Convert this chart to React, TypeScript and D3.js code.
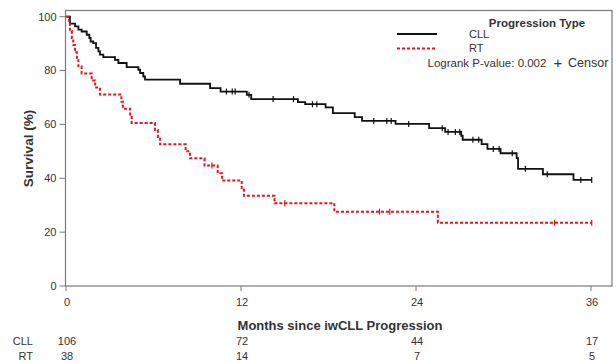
import React from "react";
import * as d3 from "d3";

// Kaplan–Meier step tables: time of each event (months) and survival (%) after it
const cllTimes = [0, 0.27, 0.62, 0.85, 1.07, 1.42, 1.6, 1.69, 1.87, 2.06, 2.22, 2.33, 2.56, 3.36, 3.59, 4.16, 4.96, 5.08, 5.3, 5.42, 7.82, 9.88, 10.6, 12.4, 12.7, 15.9, 16.4, 17.8, 18.3, 19.8, 20.3, 22.6, 24.9, 26.0, 27.1, 27.2, 28.5, 28.9, 29.8, 30.9, 31.0, 32.7, 34.8];
const cllSurv = [100, 97.4, 96.4, 95.2, 94.5, 93.3, 92.1, 90.8, 90.2, 88.4, 87.1, 85.9, 85.0, 84.0, 82.8, 81.3, 80.3, 79.1, 77.8, 76.6, 75.1, 73.5, 72.2, 71.0, 69.4, 68.3, 67.5, 66.3, 64.2, 62.7, 61.3, 60.2, 58.6, 57.2, 55.8, 54.3, 52.7, 50.9, 49.3, 47.5, 43.5, 41.5, 39.4];
const cllCensor = [11.0, 11.4, 11.6, 12.55, 14.2, 15.6, 16.9, 17.2, 21.1, 22.0, 22.3, 23.5, 25.8, 26.2, 26.7, 27.0, 27.9, 28.3, 29.3, 29.7, 30.6, 31.5, 33.0, 35.3, 36.05];

const rtTimes = [0, 0.2, 0.27, 0.4, 0.5, 0.62, 0.75, 0.85, 1.07, 1.76, 2.0, 2.33, 3.8, 3.9, 4.4, 4.5, 6.1, 6.3, 6.45, 8.2, 8.5, 9.5, 10.4, 10.7, 12.05, 12.2, 14.3, 18.4, 25.5];
const rtSurv = [100, 97.4, 94.7, 92.1, 89.5, 86.8, 84.2, 81.6, 78.9, 76.3, 73.7, 71.1, 68.4, 65.8, 63.2, 60.5, 57.9, 55.3, 52.6, 50.0, 47.4, 44.7, 41.9, 39.2, 36.3, 33.5, 30.7, 27.6, 23.5];
const rtCensor = [10.0, 15.0, 21.5, 22.2, 33.5, 36.05];

const followUpEnd = 36.05;

const xTicks = [0, 12, 24, 36];
const yTicks = [0, 20, 40, 60, 80, 100];
const riskGroups = ["CLL", "RT"];
const cllAtRisk = [106, 72, 44, 17];
const rtAtRisk = [38, 14, 7, 5];

const FONT = "'Liberation Sans', Arial, Helvetica, sans-serif";
const TEXT = "#333";
const FRAME = "#7a7a7a";
const CLL_COLOR = "#111";
const RT_COLOR = "#e8141c";

function survAt(times: number[], surv: number[], t: number) {
  const i = d3.bisectRight(times, t) - 1;
  return surv[Math.max(0, i)];
}

export default function App() {
  const x = d3.scaleLinear().domain([0, 36]).range([66, 591]);
  const y = d3.scaleLinear().domain([0, 100]).range([286, 16.7]);
  const frame = { left: 65.5, right: 612, top: 10.5, bottom: 286 };

  const line = d3
    .line<[number, number]>()
    .x((d) => x(d[0]))
    .y((d) => y(d[1]))
    .curve(d3.curveStepAfter);

  const series = [
    { times: cllTimes, surv: cllSurv, censor: cllCensor, color: CLL_COLOR, dash: undefined as string | undefined, width: 1.8 },
    { times: rtTimes, surv: rtSurv, censor: rtCensor, color: RT_COLOR, dash: "3,2", width: 2 },
  ];

  const riskRows = [cllAtRisk, rtAtRisk];

  return (
    <svg
      width={616}
      height={363}
      style={{ position: "absolute", left: 0, top: 0, background: "#fff" }}
      fontFamily={FONT}
    >
      {/* plot frame */}
      <rect
        x={frame.left}
        y={frame.top}
        width={frame.right - frame.left}
        height={frame.bottom - frame.top}
        fill="none"
        stroke={FRAME}
        strokeWidth={1.2}
      />

      {/* y axis */}
      {yTicks.map((t) => (
        <g key={"y" + t}>
          <line x1={frame.left - 6} x2={frame.left} y1={y(t)} y2={y(t)} stroke={FRAME} strokeWidth={1} />
          <text x={frame.left - 9} y={y(t)} dy="0.35em" textAnchor="end" fontSize={11} fill={TEXT}>
            {t}
          </text>
        </g>
      ))}
      <text
        transform="translate(33,148.5) rotate(-90)"
        textAnchor="middle"
        fontSize={13.5}
        fontWeight="bold"
        fill={TEXT}
      >
        Survival (%)
      </text>

      {/* x axis */}
      {xTicks.map((t) => (
        <g key={"x" + t}>
          <line x1={x(t)} x2={x(t)} y1={frame.bottom} y2={frame.bottom + 5} stroke={FRAME} strokeWidth={1} />
          <text x={x(t) + 1} y={302} dy="0.35em" textAnchor="middle" fontSize={11} fill={TEXT}>
            {t}
          </text>
        </g>
      ))}
      <text x={340} y={325} dy="0.35em" textAnchor="middle" fontSize={13} fontWeight="bold" fill={TEXT}>
        Months since iwCLL Progression
      </text>

      {/* survival curves */}
      {series.map((s, i) => {
        const pts: [number, number][] = s.times.map((t, j) => [t, s.surv[j]]);
        pts.push([followUpEnd, s.surv[s.surv.length - 1]]);
        return (
          <g key={"s" + i}>
            <path
              d={line(pts) || ""}
              fill="none"
              stroke={s.color}
              strokeWidth={s.width}
              strokeDasharray={s.dash}
            />
            {s.censor.map((c, k) => {
              const v = survAt(s.times, s.surv, c);
              return (
                <line
                  key={k}
                  x1={x(c)}
                  x2={x(c)}
                  y1={y(v) - 3}
                  y2={y(v) + 3}
                  stroke={s.color}
                  strokeWidth={1.2}
                />
              );
            })}
          </g>
        );
      })}

      {/* legend */}
      <text x={537} y={23} dy="0.35em" textAnchor="middle" fontSize={11.5} fontWeight="bold" fill={TEXT}>
        Progression Type
      </text>
      <line x1={397} x2={437} y1={34} y2={34} stroke={CLL_COLOR} strokeWidth={1.8} />
      <text x={469} y={34} dy="0.35em" fontSize={11} fill={TEXT}>
        CLL
      </text>
      <line x1={397} x2={435} y1={48.5} y2={48.5} stroke={RT_COLOR} strokeWidth={2} strokeDasharray="3,2" />
      <text x={469} y={48.5} dy="0.35em" fontSize={11} fill={TEXT}>
        RT
      </text>
      <text x={427.5} y={63} dy="0.35em" fontSize={11.5} fill={TEXT}>
        Logrank P-value: 0.002
      </text>
      <text x={558} y={63} dy="0.35em" textAnchor="middle" fontSize={15} fill={TEXT}>
        +
      </text>
      <text x={568} y={63} dy="0.35em" fontSize={12.5} fill={TEXT}>
        Censor
      </text>

      {/* number at risk */}
      {riskGroups.map((g, r) => (
        <g key={"r" + g}>
          <text x={33} y={341 + r * 15} dy="0.35em" textAnchor="end" fontSize={11} fill={TEXT}>
            {g}
          </text>
          {riskRows[r].map((n, k) => (
            <text key={k} x={x(xTicks[k]) + 1} y={341 + r * 15} dy="0.35em" textAnchor="middle" fontSize={11} fill={TEXT}>
              {n}
            </text>
          ))}
        </g>
      ))}
    </svg>
  );
}
